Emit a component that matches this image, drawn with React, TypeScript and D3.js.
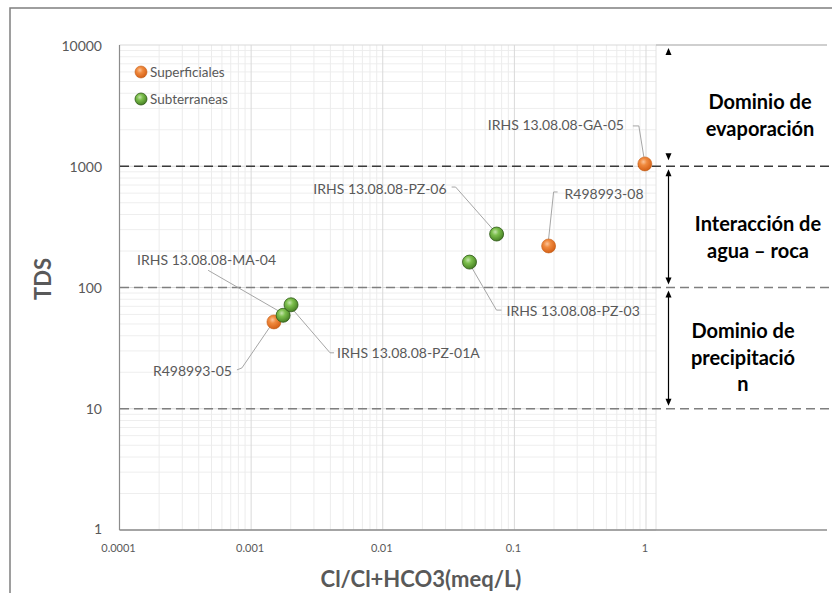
import React from "react";
import * as d3 from "d3";

// ---- data ----
const superNames = ["IRHS 13.08.08-GA-05", "R498993-08", "R498993-05"];
const superX = [0.98, 0.182, 0.00149];
const superY = [1045, 220, 52];

const subNames = ["IRHS 13.08.08-PZ-06", "IRHS 13.08.08-PZ-03", "IRHS 13.08.08-MA-04", "IRHS 13.08.08-PZ-01A"];
const subX = [0.0733, 0.0456, 0.00175, 0.00201];
const subY = [276, 162, 59, 72];

const xTicks = [0.0001, 0.001, 0.01, 0.1, 1];
const xTickLabels = ["0.0001", "0.001", "0.01", "0.1", "1"];
const yTicks = [1, 10, 100, 1000, 10000];
const yTickLabels = ["1", "10", "100", "1000", "10000"];
const thresholds = [1000, 100, 10];
const seriesNames = ["Superficiales", "Subterraneas"];
const zoneTexts = [["Dominio de", "evaporación"], ["Interacción de", "agua – roca"], ["Dominio de", "precipitació", "n"]];
const xTitle = "Cl/Cl+HCO3(meq/L)";
const yTitle = "TDS";

// label layout (offsets from point): text anchor pos, anchor, leader polyline (label side -> point side)
const labelLayout: Record<string, { tx: number; ty: number; anchor: string; leader: [number, number][] }> = {
  "IRHS 13.08.08-GA-05": { tx: -157, ty: -39, anchor: "start", leader: [[-12, -38], [-6, -38], [-1, -7]] },
  "R498993-08": { tx: 16, ty: -52, anchor: "start", leader: [[9, -54], [5, -54], [0, -7]] },
  "IRHS 13.08.08-PZ-06": { tx: -50, ty: -46, anchor: "end", leader: [[-45, -47], [-41, -47], [-4, -5]] },
  "IRHS 13.08.08-PZ-03": { tx: 37, ty: 48, anchor: "start", leader: [[32, 48], [27, 48], [2, 5]] },
  "IRHS 13.08.08-MA-04": { tx: -146, ty: -56, anchor: "start", leader: [[-75, -45], [-4, -4]] },
  "R498993-05": { tx: -42, ty: 49, anchor: "end", leader: [[-37, 48], [-32, 46], [-4, 5]] },
  "IRHS 13.08.08-PZ-01A": { tx: 46, ty: 48, anchor: "start", leader: [[43, 48], [39, 48], [2, 5]] },
};

const W = 832;
const H = 593;
const FONT = "Lato, 'Open Sans', sans-serif";

export default function App() {
  const x = d3.scaleLog().domain([1e-4, 1]).range([119.5, 646]);
  const y = d3.scaleLog().domain([1, 10000]).range([530, 45]);
  const gridRight = 656;
  const axisRight = 827;

  // grid values
  const xMinor: number[] = [];
  for (let e = -4; e <= 0; e++) {
    for (let m = 1; m <= 9; m++) {
      const v = m * Math.pow(10, e);
      if (x(v) <= gridRight) xMinor.push(v);
    }
  }
  const yMinor: number[] = [];
  for (let e = 0; e <= 3; e++) {
    for (let m = 2; m <= 9; m++) yMinor.push(m * Math.pow(10, e));
  }

  const superPts = superNames.map((n, i) => ({ name: n, px: x(superX[i]), py: y(superY[i]) }));
  const subPts = subNames.map((n, i) => ({ name: n, px: x(subX[i]), py: y(subY[i]) }));

  const line = d3.line();

  const arrowX = 668.5;
  const arrows = [
    { top: y(10000) + 3, bot: y(1000) - 6, shaft: false },
    { top: y(1000) + 3, bot: y(100) - 3, shaft: true },
    { top: y(100) + 3, bot: y(10) - 3, shaft: true },
  ];
  const zoneCenters = [
    { cx: 760, y0: 101 },
    { cx: 758, y0: 223 },
    { cx: 743, y0: 330 },
  ];

  const label = (p: { name: string; px: number; py: number }) => {
    const L = labelLayout[p.name];
    const pts: [number, number][] = L.leader.map(([a, b]) => [p.px + a, p.py + b] as [number, number]);
    return (
      <g key={"l" + p.name}>
        <path d={line(pts) || ""} fill="none" stroke="#a6a6a6" strokeWidth={1} />
        <text x={p.px + L.tx} y={p.py + L.ty} textAnchor={L.anchor} dominantBaseline="central" fontSize={14} fill="#595959" fontFamily={FONT}>
          {p.name}
        </text>
      </g>
    );
  };

  return (
    <svg width={W} height={H} style={{ position: "absolute", left: 0, top: 0 }} fontFamily={FONT}>
      <defs>
        <radialGradient id="gOrange" cx="0.4" cy="0.35" r="0.7">
          <stop offset="0" stopColor="#fbc49a" />
          <stop offset="0.35" stopColor="#f08a3e" />
          <stop offset="0.85" stopColor="#d9661c" />
          <stop offset="1" stopColor="#b5520f" />
        </radialGradient>
        <radialGradient id="gGreen" cx="0.4" cy="0.35" r="0.7">
          <stop offset="0" stopColor="#c5e3ad" />
          <stop offset="0.35" stopColor="#7cbf4c" />
          <stop offset="0.85" stopColor="#4f8a2a" />
          <stop offset="1" stopColor="#2f5a17" />
        </radialGradient>
      </defs>
      <rect x={0} y={0} width={W} height={H} fill="#fff" />
      {/* frame */}
      <path d={`M10,${H + 5} V8 H${W + 5}`} fill="none" stroke="#7f7f7f" strokeWidth={1.5} />

      {/* grid */}
      {yMinor.map((v) => (
        <line key={"ym" + v} x1={119.5} x2={gridRight} y1={y(v)} y2={y(v)} stroke="#eeeeee" strokeWidth={1} />
      ))}
      {xMinor.map((v) => (
        <line key={"xm" + v} x1={x(v)} x2={x(v)} y1={45} y2={530} stroke={xTicks.some((t) => Math.abs(t - v) / t < 1e-9) ? "#d9d9d9" : "#ececec"} strokeWidth={1} />
      ))}
      {yTicks.map((v) => (
        <line key={"yM" + v} x1={119.5} x2={gridRight} y1={y(v)} y2={y(v)} stroke="#d9d9d9" strokeWidth={1} />
      ))}
      <line x1={gridRight} x2={gridRight} y1={45} y2={530} stroke="#e2e2e2" strokeWidth={1} />
      <line x1={gridRight} x2={axisRight} y1={45} y2={45} stroke="#bfbfbf" strokeWidth={1.5} />

      {/* axes */}
      <line x1={119.5} x2={119.5} y1={45} y2={530} stroke="#8c8c8c" strokeWidth={1.2} />
      <line x1={119.5} x2={axisRight} y1={530} y2={530} stroke="#8c8c8c" strokeWidth={1.5} />

      {/* thresholds */}
      {thresholds.map((t, i) => (
        <line key={"th" + t} x1={120} x2={829} y1={y(t)} y2={y(t)} stroke={i === 0 ? "#3a3a3a" : "#7f7f7f"} strokeWidth={1.6} strokeDasharray="9,5" />
      ))}

      {/* tick labels */}
      {yTicks.map((v, i) => (
        <text key={"yt" + v} x={102} y={y(v) - (v === 1 ? 2 : 0)} textAnchor="end" dominantBaseline="central" fontSize={14} fill="#595959">
          {yTickLabels[i]}
        </text>
      ))}
      {xTicks.map((v, i) => (
        <text key={"xt" + v} x={x(v) - 1} y={547} textAnchor="middle" dominantBaseline="central" fontSize={11} fill="#595959">
          {xTickLabels[i]}
        </text>
      ))}

      {/* titles */}
      <text x={421} y={578} textAnchor="middle" dominantBaseline="central" fontSize={22} fontWeight="bold" fill="#595959">
        {xTitle}
      </text>
      <text transform="translate(42,279) rotate(-90)" textAnchor="middle" dominantBaseline="central" fontSize={22} fontWeight="bold" fill="#595959">
        {yTitle}
      </text>

      {/* leaders and labels */}
      {superPts.map(label)}
      {subPts.map(label)}

      {/* points */}
      {superPts.map((p) => (
        <circle key={"sp" + p.name} cx={p.px} cy={p.py} r={7} fill="url(#gOrange)" stroke="#c65f18" strokeWidth={0.6} />
      ))}
      {subPts.map((p) => (
        <circle key={"sb" + p.name} cx={p.px} cy={p.py} r={7} fill="url(#gGreen)" stroke="#2f5a17" strokeWidth={0.8} />
      ))}

      {/* legend */}
      <circle cx={141} cy={72} r={6} fill="url(#gOrange)" stroke="#c65f18" strokeWidth={0.6} />
      <text x={150} y={72} dominantBaseline="central" fontSize={13.5} fill="#595959">{seriesNames[0]}</text>
      <circle cx={141} cy={99} r={6} fill="url(#gGreen)" stroke="#2f5a17" strokeWidth={0.8} />
      <text x={150} y={99} dominantBaseline="central" fontSize={13.5} fill="#595959">{seriesNames[1]}</text>

      {/* zone arrows */}
      {arrows.map((a, i) => (
        <g key={"ar" + i} stroke="#000" fill="#000">
          {a.shaft && <line x1={arrowX} x2={arrowX} y1={a.top + 4} y2={a.bot - 4} strokeWidth={1.2} />}
          <path d={`M${arrowX},${a.top} L${arrowX - 3},${a.top + 7} L${arrowX + 3},${a.top + 7} Z`} stroke="none" />
          <path d={`M${arrowX},${a.bot} L${arrowX - 3},${a.bot - 7} L${arrowX + 3},${a.bot - 7} Z`} stroke="none" />
        </g>
      ))}

      {/* zone texts */}
      {zoneTexts.map((lines, i) =>
        lines.map((t, j) => (
          <text key={"z" + i + j} x={zoneCenters[i].cx} y={zoneCenters[i].y0 + j * 26.5} textAnchor="middle" dominantBaseline="central" fontSize={20} fontWeight="bold" fill="#000">
            {t}
          </text>
        ))
      )}
    </svg>
  );
}
